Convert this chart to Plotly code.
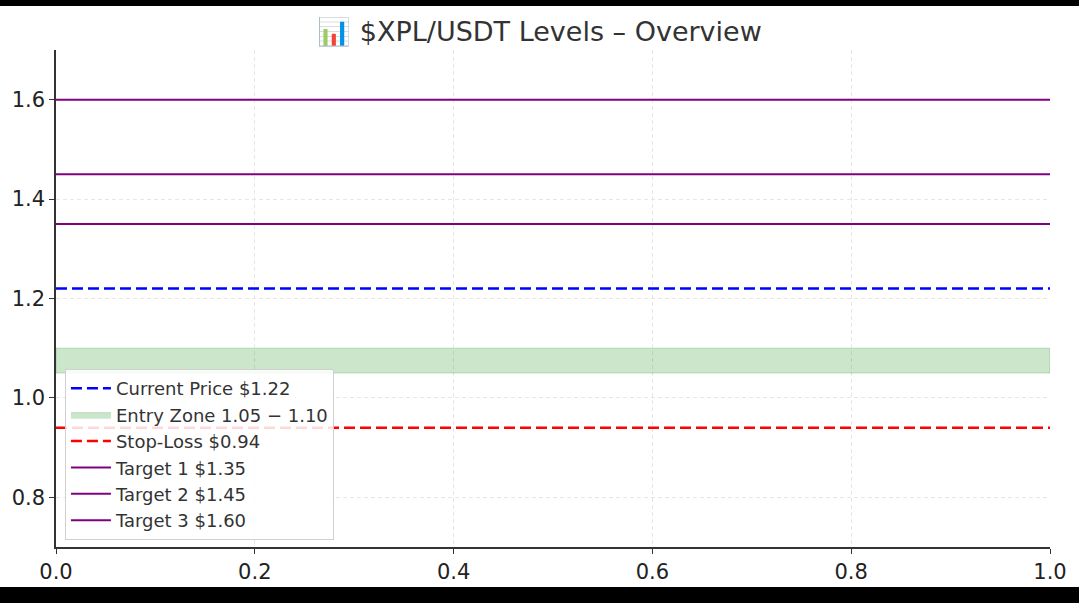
import plotly.graph_objects as go

title = "📊 $XPL/USDT Levels – Overview"
current_price = 1.22
entry_low, entry_high = 1.05, 1.10
stop_loss = 0.94
targets = [1.35, 1.45, 1.60]
target_names = ["Target 1 $1.35", "Target 2 $1.45", "Target 3 $1.60"]
x_span = [0, 1]
x_ticks = [0.0, 0.2, 0.4, 0.6, 0.8, 1.0]
y_ticks = [0.8, 1.0, 1.2, 1.4, 1.6]

fig = go.Figure()

fig.add_trace(go.Scatter(
    x=x_span, y=[current_price, current_price], mode="lines",
    line=dict(color="#0000ff", width=2.5, dash="11px,5px"),
    name="Current Price $1.22"))

fig.add_trace(go.Scatter(
    x=[x_span[0], x_span[1], x_span[1], x_span[0], x_span[0]],
    y=[entry_low, entry_low, entry_high, entry_high, entry_low],
    mode="lines", fill="toself", fillcolor="rgba(0,128,0,0.2)",
    line=dict(color="rgba(0,128,0,0.22)", width=1),
    name="Entry Zone 1.05 − 1.10"))

fig.add_trace(go.Scatter(
    x=x_span, y=[stop_loss, stop_loss], mode="lines",
    line=dict(color="#ff0000", width=2.5, dash="11px,5px"),
    name="Stop-Loss $0.94"))

for t, n in zip(targets, target_names):
    fig.add_trace(go.Scatter(
        x=x_span, y=[t, t], mode="lines",
        line=dict(color="#800080", width=2),
        name=n))

# black bars top and bottom of the image
fig.add_shape(type="rect", xref="paper", yref="paper", x0=-0.1, x1=1.1,
              y0=1.0885, y1=1.12, fillcolor="black", line_width=0, layer="above")
fig.add_shape(type="rect", xref="paper", yref="paper", x0=-0.1, x1=1.1,
              y0=-0.12, y1=-0.0805, fillcolor="black", line_width=0, layer="above")

fig.update_layout(
    width=1079, height=603,
    margin=dict(l=53, r=29, t=50, b=56),
    paper_bgcolor="white", plot_bgcolor="white",
    font=dict(family="DejaVu Sans", color="#222222"),
    title=dict(text=title, x=0.5, xanchor="center", y=0.947, yanchor="middle",
               font=dict(size=27, color="#333333")),
    showlegend=True,
    legend=dict(x=0.009, y=0.358, xanchor="left", yanchor="top",
                bgcolor="rgba(255,255,255,0.85)", bordercolor="#d0d0d0", borderwidth=1,
                font=dict(size=18, color="#333333"), tracegroupgap=0,
                itemwidth=40),
)

fig.update_xaxes(range=[0, 1], tickvals=x_ticks, tickformat=".1f",
                 showline=True, linecolor="#333333", linewidth=1.5,
                 ticks="outside", ticklen=5, tickcolor="#333333",
                 showgrid=True, gridcolor="#e6e6e6", griddash="4px,3px", gridwidth=1,
                 zeroline=False, tickfont=dict(size=21, color="#222222"))
fig.update_yaxes(range=[0.7, 1.7], tickvals=y_ticks, tickformat=".1f",
                 showline=True, linecolor="#333333", linewidth=1.5,
                 ticks="outside", ticklen=5, tickcolor="#333333",
                 showgrid=True, gridcolor="#e6e6e6", griddash="4px,3px", gridwidth=1,
                 zeroline=False, tickfont=dict(size=21, color="#222222"))

fig.write_html("out.html", config={"displayModeBar": False},
               post_script="document.body.style.margin='0';document.body.style.overflow='hidden';")
